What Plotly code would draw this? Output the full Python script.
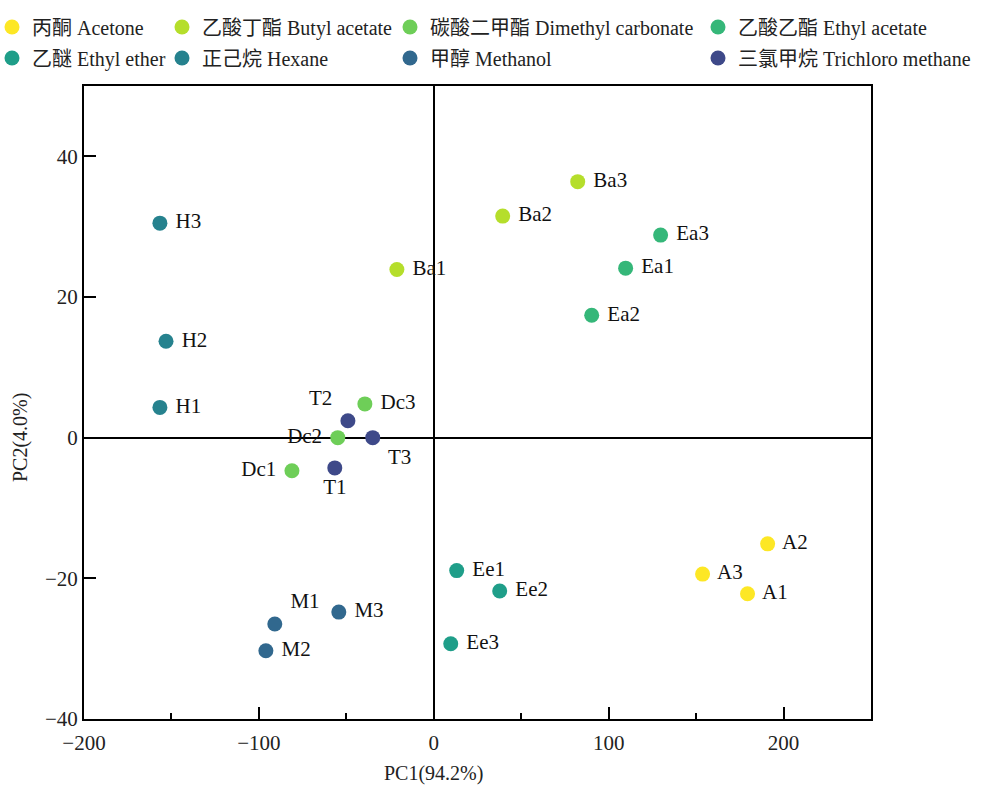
import plotly.graph_objects as go

groups = ["丙酮 Acetone", "乙酸丁酯 Butyl acetate", "碳酸二甲酯 Dimethyl carbonate", "乙酸乙酯 Ethyl acetate",
          "乙醚 Ethyl ether", "正己烷 Hexane", "甲醇 Methanol", "三氯甲烷 Trichloro methane"]
colors = ["#fde725", "#b5de2b", "#6ece58", "#35b779", "#1f9e89", "#26828e", "#31688e", "#3e4989"]

labels = [["A1", "A2", "A3"], ["Ba1", "Ba2", "Ba3"], ["Dc1", "Dc2", "Dc3"], ["Ea1", "Ea2", "Ea3"],
          ["Ee1", "Ee2", "Ee3"], ["H1", "H2", "H3"], ["M1", "M2", "M3"], ["T1", "T2", "T3"]]
pc1 = [[179.4, 190.9, 153.7], [-21.1, 39.4, 82.3], [-81.1, -54.9, -39.4], [109.7, 90.3, 129.7],
       [13.1, 37.7, 9.7], [-156.6, -153.1, -156.6], [-90.9, -96.0, -54.3], [-56.6, -49.1, -34.9]]
pc2 = [[-22.2, -15.1, -19.4], [23.9, 31.5, 36.4], [-4.7, 0.0, 4.8], [24.1, 17.4, 28.8],
       [-18.9, -21.8, -29.3], [4.3, 13.7, 30.5], [-26.5, -30.3, -24.8], [-4.3, 2.4, 0.0]]
textpos = [["middle right"] * 3, ["middle right"] * 3, ["middle left", "middle left", "middle right"],
           ["middle right"] * 3, ["middle right"] * 3, ["middle right"] * 3,
           ["top right", "middle right", "middle right"], ["bottom center", "top left", "bottom right"]]

FONT = "Liberation Serif, Times New Roman, Noto Sans CJK SC, serif"

# legend layout (page pixels)
ML, MR, MT, MB, W, H = 84, 112, 86, 68, 983, 787
PW, PH = W - ML - MR, H - MT - MB
leg_x = [-8, 162, 390, 698]
leg_y = [27, 58]


def pad(t, pos):
    if pos.endswith("right"):
        return " " + t
    if pos.endswith("left"):
        return t + " "
    return t


fig = go.Figure()
layout_legends = {}
for i, g in enumerate(groups):
    key = "legend" if i == 0 else f"legend{i+1}"
    shown = [pad(t, p) for t, p in zip(labels[i], textpos[i])]
    fig.add_trace(go.Scatter(
        x=pc1[i], y=pc2[i], mode="markers+text", name=g, text=shown,
        textposition=textpos[i], textfont=dict(size=21, color="#111111", family=FONT),
        marker=dict(size=15, color=colors[i]), legend=key, cliponaxis=False))
    col = i % 4
    row = i // 4
    layout_legends[key] = dict(
        x=(leg_x[col] - ML) / PW, y=(H - MB - leg_y[row]) / PH, xref="paper", yref="paper",
        xanchor="left", yanchor="middle", orientation="h", bgcolor="rgba(0,0,0,0)",
        font=dict(size=20, family=FONT, color="#222222"), itemsizing="trace")

fig.update_layout(
    width=W, height=H, plot_bgcolor="white", paper_bgcolor="white",
    margin=dict(l=ML, r=MR, t=MT, b=MB, autoexpand=False),
    font=dict(family=FONT, size=20, color="#222222"),
    showlegend=True,
    **layout_legends,
)
fig.update_xaxes(range=[-200, 250], tickvals=[-200, -100, 0, 100, 200], ticks="inside", ticklen=12,
                 tickwidth=2, tickcolor="black", showline=True, linecolor="black", linewidth=2, mirror=True,
                 showgrid=False, zeroline=True, zerolinecolor="black", zerolinewidth=2,
                 minor=dict(tickvals=[-150, -50, 50, 150], ticks="inside", ticklen=6, tickwidth=2, tickcolor="black"),
                 tickfont=dict(size=21), ticklabelstandoff=4)
fig.update_yaxes(range=[-40, 50], tickvals=[-40, -20, 0, 20, 40], ticks="inside", ticklen=12,
                 tickwidth=2, tickcolor="black", showline=True, linecolor="black", linewidth=2, mirror=True,
                 showgrid=False, zeroline=True, zerolinecolor="black", zerolinewidth=2,
                 tickfont=dict(size=21), ticklabelstandoff=0)

fig.add_annotation(text="PC1(94.2%)", x=0, xref="x", y=(H - MB - 773) / PH, yref="paper",
                   yanchor="middle", showarrow=False, font=dict(size=20, family=FONT),
                   borderpad=0)
fig.add_annotation(text="PC2(4.0%)", x=-0.098, xref="paper", y=0, yref="y", textangle=-90,
                   showarrow=False, font=dict(size=20, family=FONT))

fig.write_html("out.html")
